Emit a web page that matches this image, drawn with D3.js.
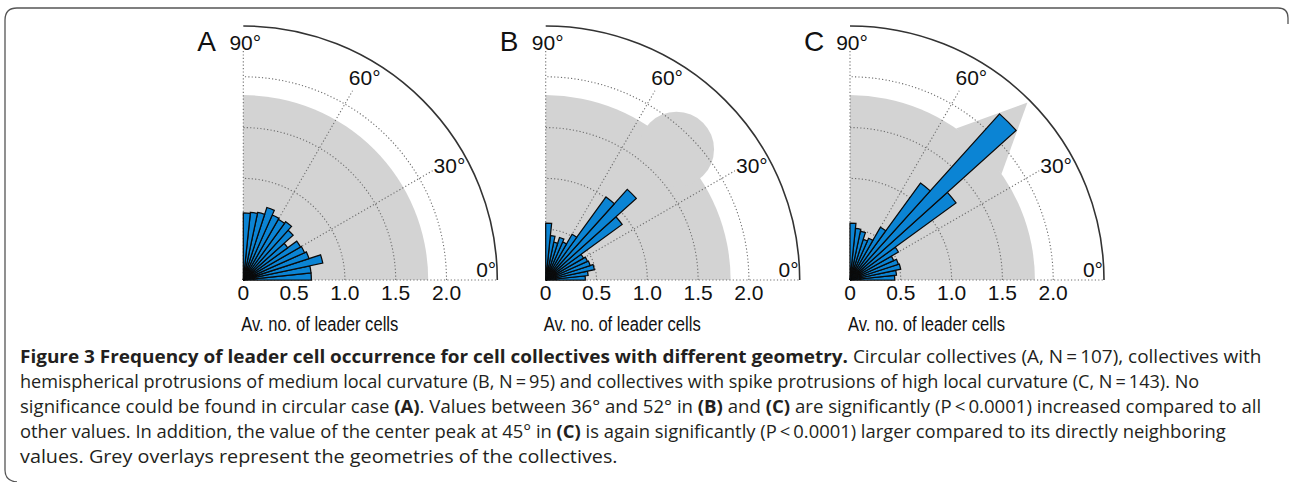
<!DOCTYPE html>
<html>
<head>
<meta charset="utf-8">
<script src="https://cdn.jsdelivr.net/npm/d3@7/dist/d3.min.js"></script>
<style>
    body { margin: 0; background: #fff; }
    svg { display: block; }
</style>
</head>
<body>
<svg id="chart" width="1290" height="482"></svg>
<script>
// angle bins (deg, bin centres) and mean number of leader cells per bin
var binCenters = [3, 9, 15, 21, 27, 33, 39, 45, 51, 57, 63, 69, 75, 81, 87];
var binWidth = 6;
var valuesA = [0.67, 0.67, 0.80, 0.68, 0.66, 0.65, 0.54, 0.66, 0.71, 0.69, 0.70, 0.75, 0.68, 0.67, 0.66];
var valuesB = [0.39, 0.42, 0.49, 0.46, 0.45, 0.43, 0.93, 1.20, 1.01, 0.52, 0.41, 0.44, 0.38, 0.44, 0.56];
var valuesC = [0.44, 0.46, 0.51, 0.50, 0.47, 0.55, 1.29, 2.20, 1.18, 0.60, 0.45, 0.42, 0.49, 0.51, 0.56];

var radialTicks = [0, 0.5, 1.0, 1.5, 2.0];
var radialTickLabels = ["0", "0.5", "1.0", "1.5", "2.0"];
var angleTicks = [0, 30, 60, 90];
var angleTickLabels = ["0°", "30°", "60°", "90°"];
var panelLetters = ["A", "B", "C"];
var axisTitle = "Av. no. of leader cells";

// grey overlays: collective geometry, in the same units as the radial axis
var bodyRadius = 1.82;
var bumpCentre = {angle: 45, value: 1.82};
var bumpRadius = 0.37;
var spikeTip = {angle: 45, value: 2.47};
var spikeBase = [{angle: 35, value: 1.82}, {angle: 55, value: 1.82}];

var rMax = 2.5;
var origins = [[243.3, 280], [545.7, 280], [850, 280]];

var svg = d3.select("#chart");

var r = d3.scaleLinear().domain([0, rMax]).range([0, 254]);
var rad = d3.scaleLinear().domain([0, 360]).range([0, 2 * Math.PI]);

function polar(angle, value) {
    var a = rad(angle);
    return [r(value) * Math.cos(a), -r(value) * Math.sin(a)];
}

function quarterArc(value) {
    var p = d3.path();
    p.moveTo(r(value), 0);
    p.arc(0, 0, r(value), 0, -Math.PI / 2, true);
    return p.toString();
}

var barArc = d3.arc()
    .innerRadius(0)
    .outerRadius(function(d) { return r(d.value); })
    .startAngle(function(d) { return rad(90 - d.angle - binWidth / 2); })
    .endAngle(function(d) { return rad(90 - d.angle + binWidth / 2); });

function drawPanel(index, values, overlay) {
    var g = svg.append("g")
        .attr("transform", "translate(" + origins[index][0] + "," + origins[index][1] + ")");

    // grey geometry overlay
    var body = d3.path();
    body.moveTo(0, 0);
    body.lineTo(r(bodyRadius), 0);
    body.arc(0, 0, r(bodyRadius), 0, -Math.PI / 2, true);
    body.closePath();
    g.append("path").attr("d", body.toString()).attr("fill", "#d3d3d3");

    if (overlay === "bump") {
        var c = polar(bumpCentre.angle, bumpCentre.value);
        g.append("circle")
            .attr("cx", c[0]).attr("cy", c[1])
            .attr("r", r(bumpRadius))
            .attr("fill", "#d3d3d3");
    }
    if (overlay === "spike") {
        var pts = [polar(spikeBase[0].angle, spikeBase[0].value),
                   polar(spikeTip.angle, spikeTip.value),
                   polar(spikeBase[1].angle, spikeBase[1].value)];
        g.append("path")
            .attr("d", d3.line()(pts) + "Z")
            .attr("fill", "#d3d3d3");
    }

    // dotted grid
    var grid = g.append("g")
        .attr("fill", "none")
        .attr("stroke", "#6e6e6e")
        .attr("stroke-width", 1.1)
        .attr("stroke-dasharray", "1.2,2.2");

    grid.selectAll("path.ring")
        .data(radialTicks.slice(1))
        .enter().append("path")
        .attr("class", "ring")
        .attr("d", quarterArc);

    grid.selectAll("line.spoke")
        .data(angleTicks)
        .enter().append("line")
        .attr("class", "spoke")
        .attr("x1", 0).attr("y1", 0)
        .attr("x2", function(d) { return polar(d, d === 0 ? rMax : d === 90 ? 2.26 : 2.15)[0]; })
        .attr("y2", function(d) { return polar(d, d === 0 ? rMax : d === 90 ? 2.26 : 2.15)[1]; });

    // histogram bars
    var data = binCenters.map(function(a, i) { return {angle: a, value: values[i]}; });
    g.selectAll("path.bar")
        .data(data)
        .enter().append("path")
        .attr("class", "bar")
        .attr("d", barArc)
        .attr("fill", "#0b84d4")
        .attr("stroke", "#0a0a0a")
        .attr("stroke-width", 1.25)
        .attr("stroke-linejoin", "miter");

    // outer solid arc
    g.append("path")
        .attr("d", quarterArc(rMax))
        .attr("fill", "none")
        .attr("stroke", "#333")
        .attr("stroke-width", 1.6);

    // angle labels
    var labels = g.append("g")
        .attr("font-family", "'Liberation Sans', Arial, sans-serif")
        .attr("font-size", 21)
        .attr("fill", "#111");

    angleTicks.forEach(function(a, i) {
        var t = labels.append("text").text(angleTickLabels[i]);
        if (a === 0) {
            t.attr("x", r(2.49)).attr("y", -3).attr("text-anchor", "end");
        } else if (a === 90) {
            t.attr("x", 2).attr("y", -r(2.26)).attr("text-anchor", "middle");
        } else {
            var p = polar(a - 1, 2.32);
            t.attr("x", p[0]).attr("y", p[1]).attr("text-anchor", "middle")
                .attr("dominant-baseline", "central");
        }
    });

    // radial tick labels along the bottom
    labels.selectAll("text.tick")
        .data(radialTicks)
        .enter().append("text")
        .attr("class", "tick")
        .attr("x", function(d) { return r(d); })
        .attr("y", 20)
        .attr("text-anchor", "middle")
        .text(function(d, i) { return radialTickLabels[i]; });

    labels.append("text")
        .attr("x", -2)
        .attr("y", 51)
        .attr("font-size", 19.5)
        .attr("textLength", 157)
        .attr("lengthAdjust", "spacingAndGlyphs")
        .text(axisTitle);

    labels.append("text")
        .attr("x", -46)
        .attr("y", -229)
        .attr("font-size", 28)
        .text(panelLetters[index]);
}

drawPanel(0, valuesA, "none");
drawPanel(1, valuesB, "bump");
drawPanel(2, valuesC, "spike");

// caption box
svg.append("path")
    .attr("d", "M17,482 Q5,481 5,470 L5,20 Q5,8 17,8 L1278,8 Q1288,8 1288,18 L1288,24")
    .attr("fill", "none")
    .attr("stroke", "#555")
    .attr("stroke-width", 1.3);

var captionLines = [
    [["Figure 3 Frequency of leader cell occurrence for cell collectives with different geometry.", true],
     [" Circular collectives (A, N\u2009=\u2009107), collectives with", false]],
    [["hemispherical protrusions of medium local curvature (B, N\u2009=\u200995) and collectives with spike protrusions of high local curvature (C, N\u2009=\u2009143). No", false]],
    [["significance could be found in circular case ", false], ["(A)", true],
     [". Values between 36° and 52° in ", false], ["(B)", true], [" and ", false], ["(C)", true],
     [" are significantly (P\u2009<\u20090.0001) increased compared to all", false]],
    [["other values. In addition, the value of the center peak at 45° in ", false], ["(C)", true],
     [" is again significantly (P\u2009<\u20090.0001) larger compared to its directly neighboring", false]],
    [["values. Grey overlays represent the geometries of the collectives.", false]]
];
var captionBaselines = [363, 388, 413, 438, 463];
var captionWidths = [1242, 1180, 1242, 1206, 598];

captionLines.forEach(function(parts, i) {
    var t = svg.append("text")
        .attr("font-family", "'Open Sans', sans-serif")
        .attr("font-size", 17.5)
        .attr("fill", "#231f20")
        .attr("x", 0).attr("y", 0);
    parts.forEach(function(p) {
        t.append("tspan").attr("font-weight", p[1] ? "bold" : "normal").text(p[0]);
    });
    // squeeze each line to the width of the condensed original face
    var sx = captionWidths[i] / t.node().getComputedTextLength();
    t.attr("transform", "translate(20," + captionBaselines[i] + ") scale(" + sx + ",1)");
});
</script>
</body>
</html>
